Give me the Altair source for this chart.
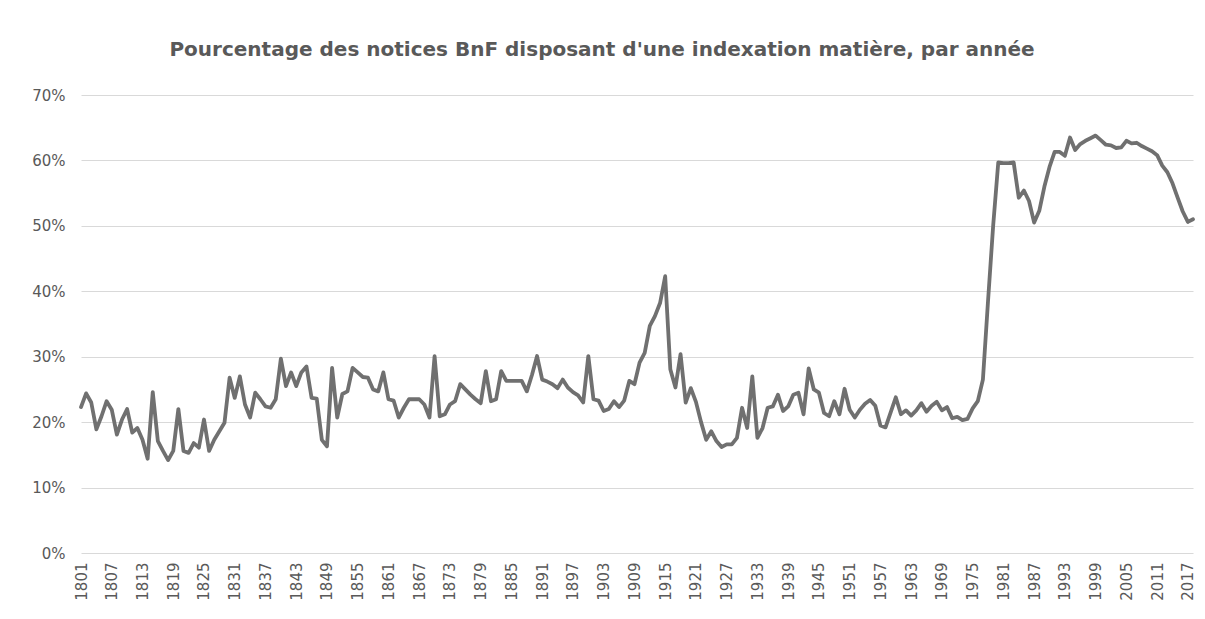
import altair as alt
import pandas as pd

TITLE = "Pourcentage des notices BnF disposant d'une indexation matière, par année"

years = list(range(1801, 2019))

pct = [
    # 1801-1810
    22.3, 24.4, 23.0, 18.9, 20.9, 23.2, 21.9, 18.1, 20.4, 22.0,
    # 1811-1820
    18.4, 19.1, 17.3, 14.4, 24.6, 17.1, 15.6, 14.2, 15.6, 22.0,
    # 1821-1830
    15.6, 15.3, 16.8, 16.1, 20.4, 15.6, 17.3, 18.6, 19.9, 26.8,
    # 1831-1840
    23.7, 27.0, 22.7, 20.7, 24.5, 23.5, 22.4, 22.2, 23.5, 29.7,
    # 1841-1850
    25.5, 27.6, 25.5, 27.6, 28.5, 23.7, 23.6, 17.3, 16.3, 28.3,
    # 1851-1860
    20.7, 24.3, 24.7, 28.3, 27.6, 26.9, 26.8, 25.0, 24.7, 27.6,
    # 1861-1870
    23.5, 23.3, 20.7, 22.2, 23.5, 23.5, 23.5, 22.7, 20.7, 30.1,
    # 1871-1880
    20.9, 21.2, 22.7, 23.2, 25.8, 25.0, 24.2, 23.5, 22.9, 27.8,
    # 1881-1890
    23.2, 23.5, 27.8, 26.3, 26.3, 26.3, 26.3, 24.7, 27.2, 30.1,
    # 1891-1900
    26.5, 26.2, 25.8, 25.2, 26.5, 25.3, 24.6, 24.1, 23.0, 30.1,
    # 1901-1910
    23.5, 23.3, 21.7, 22.0, 23.2, 22.3, 23.3, 26.3, 25.8, 29.1,
    # 1911-1920
    30.6, 34.7, 36.2, 38.2, 42.3, 28.1, 25.3, 30.4, 23.0, 25.2,
    # 1921-1930
    23.1, 20.0, 17.3, 18.6, 17.1, 16.2, 16.6, 16.6, 17.6, 22.2,
    # 1931-1940
    19.1, 27.0, 17.6, 19.1, 22.2, 22.4, 24.2, 21.7, 22.4, 24.2,
    # 1941-1950
    24.5, 21.2, 28.2, 25.0, 24.5, 21.4, 20.9, 23.2, 21.2, 25.1,
    # 1951-1960
    21.9, 20.7, 21.9, 22.8, 23.4, 22.5, 19.5, 19.2, 21.5, 23.8,
    # 1961-1970
    21.2, 21.8, 21.0, 21.8, 22.9, 21.6, 22.5, 23.1, 21.8, 22.3,
    # 1971-1980
    20.6, 20.8, 20.3, 20.5, 22.1, 23.2, 26.5, 38.5, 50.0, 59.7,
    # 1981-1990
    59.6, 59.6, 59.7, 54.3, 55.4, 53.8, 50.5, 52.3, 56.0, 59.0,
    # 1991-2000
    61.3, 61.3, 60.7, 63.5, 61.6, 62.5, 63.0, 63.4, 63.8, 63.1,
    # 2001-2010
    62.4, 62.3, 61.9, 62.0, 63.0, 62.6, 62.7, 62.2, 61.8, 61.4,
    # 2011-2018
    60.8, 59.2, 58.2, 56.5, 54.3, 52.2, 50.6, 51.0,
]

x_tick_years = list(range(1801, 2018, 6))
y_ticks = [0, 10, 20, 30, 40, 50, 60, 70]

df = pd.DataFrame({"annee": years, "pct": pct})

FONT = "DejaVu Sans"
GREY_TXT = "#595959"

chart = (
    alt.Chart(df)
    .mark_line(color="#707070", strokeWidth=3.8, strokeJoin="round", strokeCap="round")
    .encode(
        x=alt.X(
            "annee:Q",
            scale=alt.Scale(domain=[1801, 2018], nice=False, zero=False),
            axis=alt.Axis(
                values=x_tick_years,
                format="d",
                labelAngle=270,
                labelAlign="right",
                labelBaseline="middle",
                labelFontSize=15,
                labelColor=GREY_TXT,
                labelFont=FONT,
                labelPadding=9,
                ticks=False,
                domain=False,
                grid=False,
                title=None,
                labelOverlap=False,
            ),
        ),
        y=alt.Y(
            "pct:Q",
            scale=alt.Scale(domain=[0, 70], nice=False),
            axis=alt.Axis(
                values=y_ticks,
                labelExpr="datum.value + '%'",
                labelFontSize=15,
                labelColor=GREY_TXT,
                labelFont=FONT,
                labelPadding=16,
                ticks=False,
                domain=False,
                grid=True,
                gridColor="#d9d9d9",
                gridWidth=1.2,
                title=None,
            ),
        ),
    )
    .properties(
        width=1112,
        height=458,
        title=alt.TitleParams(
            TITLE,
            font=FONT,
            fontSize=20,
            fontWeight="bold",
            color=GREY_TXT,
            anchor="middle",
            offset=28,
            dx=-35,
        ),
        padding={"left": 73, "top": 87, "right": 4, "bottom": 60},
        autosize=alt.AutoSizeParams(type="none"),
    )
    .configure(background="white")
    .configure_view(stroke=None)
)

chart.save("out.html", embed_options={"renderer": "svg", "actions": False})
